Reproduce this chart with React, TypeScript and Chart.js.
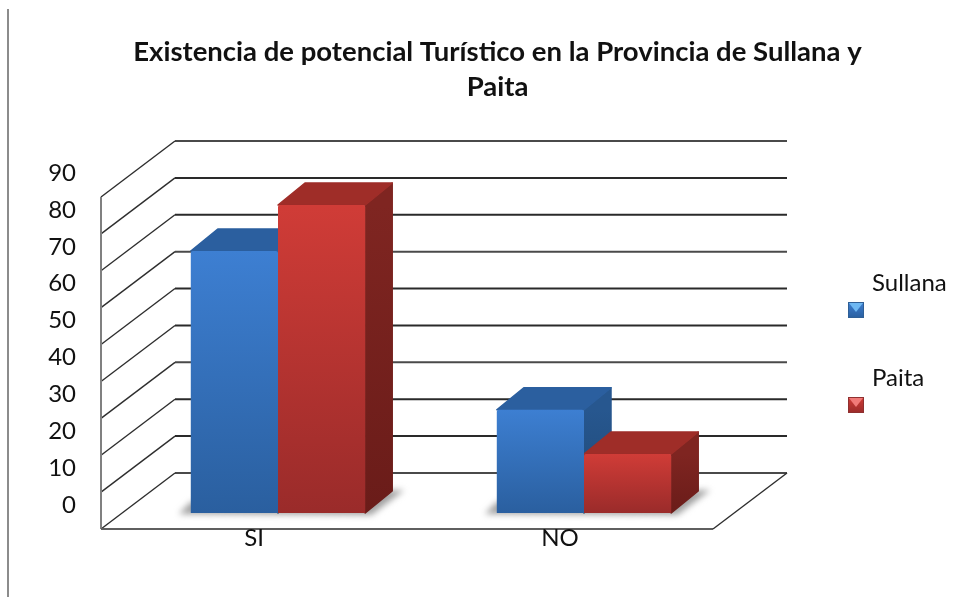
import React, { useEffect, useRef } from "react";
import { Chart, registerables } from "chart.js";

Chart.register(...registerables);

const categories = ["SI", "NO"];
const sullanaValues = [71, 28];
const paitaValues = [83.5, 16];
const seriesNames = ["Sullana", "Paita"];
const titleLines = ["Existencia de potencial Turístico en la Provincia de Sullana y", "Paita"];
const FONT = "Lato, 'Open Sans', sans-serif";

const palette = [
  { top: "#3d7fd2", bottom: "#2a5f9f", cap: "#2b5f9f", sideTop: "#27578f", sideBottom: "#1f4874", light: "#6fb8f2", frame: "#2f5f96" },
  { top: "#d03c37", bottom: "#9a2b2a", cap: "#9f2d28", sideTop: "#7f2521", sideBottom: "#6a1c19", light: "#f07a78", frame: "#8f3030" },
];

const FRONT = { dx: -24, dy: 16 };
const BACK = { dx: 50, dy: -40 };
const BAR_DEPTH = { dx: 27, dy: -22 };

function poly(ctx: CanvasRenderingContext2D, pts: number[][], fill: any, rounded = false) {
  ctx.beginPath();
  pts.forEach((p, i) => (i ? ctx.lineTo(p[0], p[1]) : ctx.moveTo(p[0], p[1])));
  ctx.closePath();
  ctx.fillStyle = fill;
  ctx.fill();
  if (rounded) {
    ctx.strokeStyle = fill;
    ctx.lineWidth = 1.5;
    ctx.lineJoin = "round";
    ctx.stroke();
  }
}

function seg(ctx: CanvasRenderingContext2D, x1: number, y1: number, x2: number, y2: number, color: string, w: number) {
  ctx.beginPath();
  ctx.moveTo(x1, y1);
  ctx.lineTo(x2, y2);
  ctx.strokeStyle = color;
  ctx.lineWidth = w;
  ctx.stroke();
}

const frame3d = {
  id: "frame3d",
  beforeDraw(chart: any) {
    const { ctx, chartArea: a, scales } = chart;
    const y = scales.y;
    ctx.save();
    // page rule on the left
    seg(ctx, 8, 9, 8, 597, "#8c8c8c", 2);
    const zero = y.getPixelForValue(0);
    const top = y.getPixelForValue(90);
    y.ticks.forEach((t: any, i: number) => {
      const py = y.getPixelForValue(t.value);
      const x0 = a.left + BACK.dx;
      const x1 = a.right + BACK.dx;
      const yb = py + BACK.dy;
      seg(ctx, x0, yb, x1, yb, i % 3 === 0 ? "#4a4a4a" : "#2a2a2a", 2);
      seg(ctx, a.left + FRONT.dx, py + FRONT.dy, x0, yb, "#2e2e2e", 1.4);
    });
    // left front edge
    seg(ctx, a.left + FRONT.dx, top + FRONT.dy, a.left + FRONT.dx, zero + FRONT.dy, "#808080", 2);
    // floor
    seg(ctx, a.left + FRONT.dx, zero + FRONT.dy, a.right + FRONT.dx, zero + FRONT.dy, "#5f5f5f", 2);
    seg(ctx, a.right + FRONT.dx, zero + FRONT.dy, a.right + BACK.dx, zero + BACK.dy, "#2e2e2e", 1.4);
    ctx.restore();
  },
  beforeDatasetsDraw(chart: any) {
    const { ctx } = chart;
    const first = chart.getDatasetMeta(0).data;
    const last = chart.getDatasetMeta(1).data;
    ctx.save();
    // floor shadows
    first.forEach((b: any, i: number) => {
      const l = b.x - b.width / 2;
      const r = last[i].x + last[i].width / 2;
      ctx.save();
      ctx.filter = "blur(3px)";
      poly(ctx, [[l - 12, b.base + 1], [l, b.base - 11], [r, b.base + BAR_DEPTH.dy], [r + BAR_DEPTH.dx + 12, b.base + BAR_DEPTH.dy - 1], [r + 6, b.base + 2]], "#a0a0a0");
      ctx.restore();
    });
    // side and top faces
    [0, 1].forEach((d) => {
      chart.getDatasetMeta(d).data.forEach((b: any) => {
        const l = b.x - b.width / 2;
        const r = b.x + b.width / 2;
        const g = ctx.createLinearGradient(0, b.y, 0, b.base);
        g.addColorStop(0, palette[d].sideTop);
        g.addColorStop(1, palette[d].sideBottom);
        poly(ctx, [[r, b.y], [r + BAR_DEPTH.dx, b.y + BAR_DEPTH.dy], [r + BAR_DEPTH.dx, b.base + BAR_DEPTH.dy], [r, b.base]], g, true);
        poly(ctx, [[l, b.y], [l + BAR_DEPTH.dx, b.y + BAR_DEPTH.dy], [r + BAR_DEPTH.dx, b.y + BAR_DEPTH.dy], [r, b.y]], palette[d].cap, true);
      });
    });
    ctx.restore();
  },
  afterDraw(chart: any) {
    const { ctx } = chart;
    ctx.save();
    ctx.font = `24px ${FONT}`;
    ctx.textBaseline = "middle";
    ctx.textAlign = "left";
    const rows = [
      { tx: 872, ty: 283, my: 302 },
      { tx: 872, ty: 378, my: 397 },
    ];
    chart.data.datasets.forEach((ds: any, d: number) => {
      const row = rows[d];
      ctx.fillStyle = "#111111";
      ctx.fillText(ds.label, row.tx, row.ty);
      const x = 848;
      const s = 16;
      const g = ctx.createLinearGradient(0, row.my, 0, row.my + s);
      g.addColorStop(0, palette[d].top);
      g.addColorStop(1, palette[d].bottom);
      ctx.fillStyle = g;
      ctx.fillRect(x, row.my, s, s);
      poly(ctx, [[x + 1, row.my + 1], [x + s - 1, row.my + 1], [x + s / 2, row.my + s - 6]], palette[d].light);
      ctx.strokeStyle = palette[d].frame;
      ctx.lineWidth = 1;
      ctx.strokeRect(x + 0.5, row.my + 0.5, s - 1, s - 1);
    });
    ctx.restore();
  },
};

function frontFill(d: number) {
  return (c: any) => {
    const area = c.chart.chartArea;
    if (!area) return palette[d].top;
    const y = c.chart.scales.y;
    const v = c.dataset.data[c.dataIndex];
    const g = c.chart.ctx.createLinearGradient(0, y.getPixelForValue(v), 0, y.getPixelForValue(0));
    g.addColorStop(0, palette[d].top);
    g.addColorStop(1, palette[d].bottom);
    return g;
  };
}

export default function App() {
  const ref = useRef<HTMLCanvasElement>(null);
  useEffect(() => {
    const chart = new Chart(ref.current as HTMLCanvasElement, {
      type: "bar",
      data: {
        labels: categories,
        datasets: [
          { label: seriesNames[0], data: sullanaValues, backgroundColor: frontFill(0), categoryPercentage: 0.57, barPercentage: 1, borderRadius: 2 },
          { label: seriesNames[1], data: paitaValues, backgroundColor: frontFill(1), categoryPercentage: 0.57, barPercentage: 1, borderRadius: 2 },
        ],
      },
      options: {
        responsive: false,
        animation: false,
        layout: { padding: { left: 26, right: 0, top: 0, bottom: 0 } },
        plugins: {
          legend: { display: false },
          tooltip: { enabled: false },
          title: {
            display: true,
            text: titleLines,
            color: "#111111",
            font: { family: FONT, size: 27.5, weight: "bold", lineHeight: 1.26 },
            padding: { top: 35, bottom: 76.7 },
          },
        },
        scales: {
          x: {
            grid: { display: false, drawTicks: false },
            border: { display: false },
            ticks: { color: "#111111", font: { family: FONT, size: 24 }, padding: 11, labelOffset: -24, maxRotation: 0 },
            afterFit: (s: any) => { s.height = 84; },
          },
          y: {
            min: 0,
            max: 90,
            grid: { display: false, drawTicks: false },
            border: { display: false },
            ticks: { stepSize: 10, color: "#111111", font: { family: FONT, size: 24 }, padding: 49, labelOffset: -8 },
            afterFit: (s: any) => { s.width = 99; },
          },
          spacer: {
            type: "linear",
            position: "right",
            grid: { display: false, drawTicks: false },
            border: { display: false },
            ticks: { display: false },
            afterFit: (s: any) => { s.width = 232; },
          },
        },
      } as any,
      plugins: [frame3d],
    });
    return () => chart.destroy();
  }, []);
  return (
    <div style={{ position: "fixed", left: 0, top: 0, width: 969, height: 597, overflow: "hidden", background: "#fff" }}>
      <canvas ref={ref} width={969} height={597} style={{ display: "block" }} />
    </div>
  );
}
